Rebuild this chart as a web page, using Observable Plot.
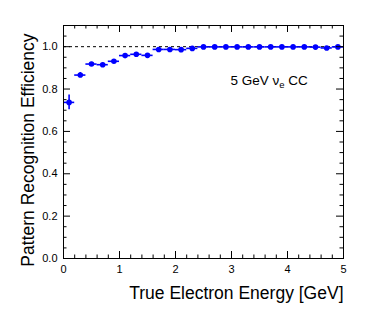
<!DOCTYPE html>
<html>
<head>
<meta charset="utf-8">
<script src="https://cdn.jsdelivr.net/npm/d3@7"></script>
<script src="https://cdn.jsdelivr.net/npm/@observablehq/plot@0.6"></script>
<style>
  html, body { margin: 0; padding: 0; background: #fff; }
  #chart { width: 374px; height: 316px; }
  svg { font-family: "Liberation Sans", Arial, Helvetica, sans-serif; }
</style>
</head>
<body>
<div id="chart"></div>
<script>
// Bin centres of true electron energy [GeV]
const energy = [0.1, 0.3, 0.5, 0.7, 0.9, 1.1, 1.3, 1.5, 1.7, 1.9, 2.1, 2.3, 2.5, 2.7, 2.9,
                3.1, 3.3, 3.5, 3.7, 3.9, 4.1, 4.3, 4.5, 4.7, 4.9];
// Bin width [GeV]
const binWidth = 0.2;
// Pattern recognition efficiency per bin
const efficiency = [0.737, 0.866, 0.918, 0.915, 0.931, 0.958, 0.964, 0.959, 0.987, 0.987,
                    0.986, 0.992, 0.999, 0.999, 0.999, 0.999, 0.999, 0.999, 0.999, 0.999,
                    0.999, 0.999, 0.998, 0.994, 0.999];
// Statistical error on efficiency
const efficiencyErr = [0.035, 0.012, 0.008, 0.008, 0.007, 0.006, 0.005, 0.005, 0.004, 0.004,
                       0.004, 0.003, 0.002, 0.002, 0.002, 0.002, 0.002, 0.002, 0.002, 0.002,
                       0.002, 0.002, 0.002, 0.003, 0.002];

const xMajorTicks = [0, 1, 2, 3, 4, 5];
const yMajorTicks = [0, 0.2, 0.4, 0.6, 0.8, 1.0];
const xMinorStep = 0.2;
const yMinorStep = 0.05;
const xDomain = [0, 5];
const yDomain = [0, 1.1];

const xLabel = "True Electron Energy [GeV]";
const yLabel = "Pattern Recognition Efficiency";
const annotation = {x: 2.98, y: 0.821, main: "5 GeV \u03BD", sub: "e", rest: " CC"};

const rows = energy.map((e, i) => ({
  e, lo: e - binWidth / 2, hi: e + binWidth / 2,
  eff: efficiency[i], effLo: efficiency[i] - efficiencyErr[i], effHi: efficiency[i] + efficiencyErr[i]
}));

const xMinorTicks = d3.range(0, 5 + 1e-9, xMinorStep).map(v => +v.toFixed(3)).filter(v => !xMajorTicks.includes(v));
const yMinorTicks = d3.range(0, 1.1 - 1e-9, yMinorStep).map(v => +v.toFixed(3)).filter(v => !yMajorTicks.some(m => Math.abs(m - v) < 1e-6));

const W = 374, H = 316;
const mL = 63, mR = 31, mT = 25, mB = 58;
const plotW = W - mL - mR, plotH = H - mT - mB;
const majorLen = 7, minorLen = 3.5;
const blue = "#0000ff";

const chart = Plot.plot({
  width: W, height: H,
  marginLeft: mL, marginRight: mR, marginTop: mT, marginBottom: mB,
  style: {fontFamily: '"Liberation Sans", Arial, Helvetica, sans-serif', color: "black", background: "white"},
  x: {domain: xDomain},
  y: {domain: yDomain},
  marks: [
    Plot.ruleY([1], {x1: xDomain[0], x2: xDomain[1], stroke: "black", strokeWidth: 1, strokeDasharray: "3,3"}),
    Plot.ruleY(rows, {y: "eff", x1: "lo", x2: "hi", stroke: blue, strokeWidth: 1.6}),
    Plot.ruleX(rows, {x: "e", y1: "effLo", y2: "effHi", stroke: blue, strokeWidth: 1.6}),
    Plot.dot(rows, {x: "e", y: "eff", r: 2.8, fill: blue, stroke: "none"}),
    // bottom & top ticks
    Plot.tickX(xMajorTicks, {x: d => d, stroke: "black", insetTop: plotH - majorLen}),
    Plot.tickX(xMinorTicks, {x: d => d, stroke: "black", insetTop: plotH - minorLen}),
    Plot.tickX(xMajorTicks, {x: d => d, stroke: "black", insetBottom: plotH - majorLen}),
    Plot.tickX(xMinorTicks, {x: d => d, stroke: "black", insetBottom: plotH - minorLen}),
    // left & right ticks
    Plot.tickY(yMajorTicks, {y: d => d, stroke: "black", insetRight: plotW - majorLen}),
    Plot.tickY(yMinorTicks, {y: d => d, stroke: "black", insetRight: plotW - minorLen}),
    Plot.tickY(yMajorTicks, {y: d => d, stroke: "black", insetLeft: plotW - majorLen}),
    Plot.tickY(yMinorTicks, {y: d => d, stroke: "black", insetLeft: plotW - minorLen}),
    Plot.frame({stroke: "black", strokeWidth: 1}),
    Plot.axisX({ticks: xMajorTicks, tickSize: 0, tickPadding: 7, fontSize: 11, label: null, tickFormat: d => String(d)}),
    Plot.axisY({ticks: yMajorTicks, tickSize: 0, tickPadding: 6, fontSize: 11, label: null, tickFormat: d3.format(".1f")}),
    Plot.text([xLabel], {frameAnchor: "bottom-right", textAnchor: "end", lineAnchor: "bottom", dy: 40, fontSize: 17.5, fill: "black"}),
    Plot.text([yLabel], {frameAnchor: "top-left", rotate: -90, textAnchor: "end", lineAnchor: "middle", dx: -35.5, dy: 8, fontSize: 17.5, fill: "black"}),
    Plot.text([annotation], {x: "x", y: "y", text: "main", textAnchor: "start", lineAnchor: "bottom", fontSize: 13.5, fill: "black"})
  ]
});

// add the subscript "e" and " CC" as tspans of the annotation
d3.select(chart).selectAll("text").each(function() {
  if (this.textContent === annotation.main) {
    const t = d3.select(this);
    t.append("tspan").attr("font-size", 9.5).attr("dy", 3).text(annotation.sub);
    t.append("tspan").attr("dy", -3).text(annotation.rest);
  }
});

document.getElementById("chart").appendChild(chart);
</script>
</body>
</html>
